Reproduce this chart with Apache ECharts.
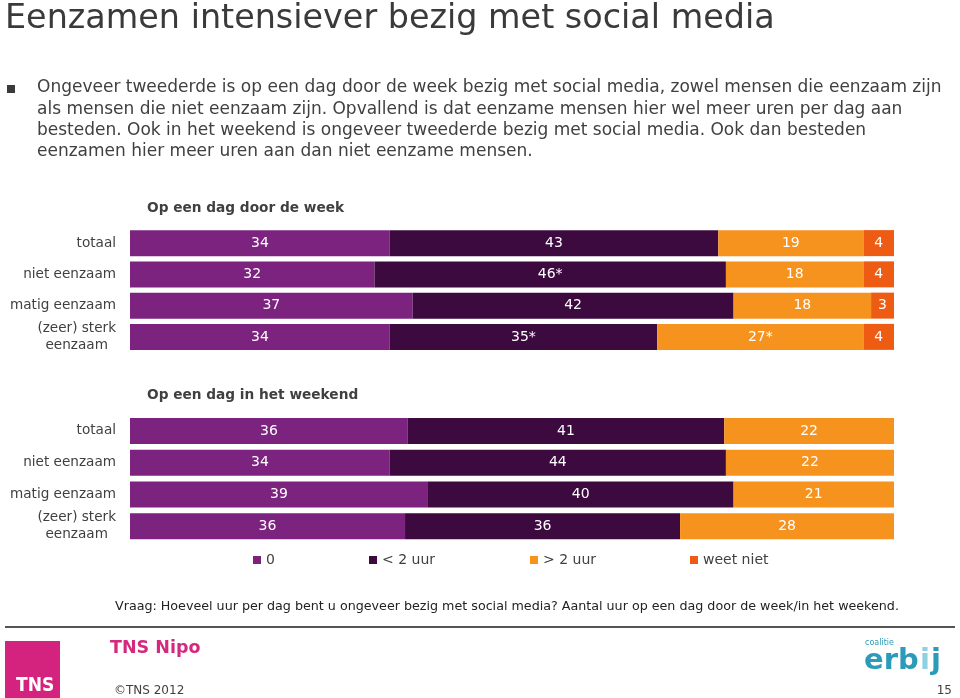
<!DOCTYPE html>
<html>
<head>
<meta charset="utf-8">
<script src="https://cdn.jsdelivr.net/npm/echarts@6/dist/echarts.min.js"></script>
<style>
html,body{margin:0;padding:0;background:#fff;}
#c{width:960px;height:698px;}
</style>
</head>
<body>
<div id="c"></div>
<script>
// ---- data ----
const categories = ['totaal', 'niet eenzaam', 'matig eenzaam', '(zeer) sterk\neenzaam'];
const seriesNames = ['0', '< 2 uur', '> 2 uur', 'weet niet'];
// Op een dag door de week
const week0 = [34, 32, 37, 34];
const week1 = [43, 46, 42, 35];
const week2 = [19, 18, 18, 27];
const week3 = [4, 4, 3, 4];
const weekMark1 = ['', '*', '', '*'];
const weekMark2 = ['', '', '', '*'];
// Op een dag in het weekend
const wknd0 = [36, 34, 39, 36];
const wknd1 = [41, 44, 40, 36];
const wknd2 = [22, 22, 21, 28];
const wknd3 = [null, null, null, null];

const colors = ['#7b237f', '#3d0a40', '#f6921e', '#ee5b13'];
const FONT = '"DejaVu Sans", Verdana, sans-serif';

function buildSeries(sets, marks, gridIdx) {
  const sums = categories.map((_, i) => sets.reduce((s, a) => s + (a[i] || 0), 0));
  return sets.map((arr, k) => ({
    name: seriesNames[k],
    type: 'bar',
    stack: 'g' + gridIdx,
    xAxisIndex: gridIdx,
    yAxisIndex: gridIdx,
    barWidth: 26,
    itemStyle: { color: colors[k] },
    label: {
      show: true,
      position: 'inside',
      color: '#fff',
      fontFamily: FONT,
      fontSize: 14,
      formatter: p => (arr[p.dataIndex] == null ? '' : arr[p.dataIndex] + (marks[k] ? marks[k][p.dataIndex] : ''))
    },
    emphasis: { disabled: true },
    data: arr.map((v, i) => (v == null ? null : v / sums[i] * 100))
  }));
}

const chart = echarts.init(document.getElementById('c'));
const yAxisBase = {
  type: 'category',
  data: categories,
  inverse: true,
  axisLine: { show: false },
  axisTick: { show: false },
  axisLabel: {
    color: '#404040', fontFamily: FONT, fontSize: 13.6, margin: 14, lineHeight: 17,
    formatter: v => v.split('\n').map(s => '{c|' + s + '}').join('\n'),
    rich: { c: { align: 'center', color: '#404040', fontFamily: FONT, fontSize: 13.6, lineHeight: 17 } }
  }
};
const xAxisBase = { type: 'value', min: 0, max: 100, show: false };

const legendItem = (name, left) => ({
  data: [name], left: left, top: 553, itemWidth: 8, itemHeight: 8, itemGap: 0, padding: 0,
  icon: 'rect', selectedMode: false,
  textStyle: { color: '#404040', fontFamily: FONT, fontSize: 14 }
});

const bulletLines = [
  'Ongeveer tweederde is op een dag door de week bezig met social media, zowel mensen die eenzaam zijn',
  'als mensen die niet eenzaam zijn. Opvallend is dat eenzame mensen hier wel meer uren per dag aan',
  'besteden. Ook in het weekend is ongeveer tweederde bezig met social media. Ook dan besteden',
  'eenzamen hier meer uren aan dan niet eenzame mensen.'
];

chart.setOption({
  animation: false,
  grid: [
    { left: 130, width: 764, top: 227.5, height: 125 },
    { left: 130, width: 764, top: 415, height: 127 }
  ],
  xAxis: [Object.assign({ gridIndex: 0 }, xAxisBase), Object.assign({ gridIndex: 1 }, xAxisBase)],
  yAxis: [Object.assign({ gridIndex: 0 }, yAxisBase), Object.assign({ gridIndex: 1 }, yAxisBase)],
  legend: [
    legendItem('0', 253),
    legendItem('< 2 uur', 369),
    legendItem('> 2 uur', 530),
    legendItem('weet niet', 690)
  ],
  title: [
    { text: 'Eenzamen intensiever bezig met social media', left: 0, top: -2,
      textStyle: { fontFamily: FONT, fontSize: 33.4, fontWeight: 'normal', color: '#3a3a3a' } },
    { text: 'Op een dag door de week', left: 142, top: 196,
      textStyle: { fontFamily: FONT, fontSize: 13.7, fontWeight: 'bold', color: '#404040' } },
    { text: 'Op een dag in het weekend', left: 142, top: 383,
      textStyle: { fontFamily: FONT, fontSize: 13.7, fontWeight: 'bold', color: '#404040' } }
  ],
  series: [
    ...buildSeries([week0, week1, week2, week3], [null, weekMark1, weekMark2, null], 0),
    ...buildSeries([wknd0, wknd1, wknd2, wknd3], [null, null, null, null], 1)
  ],
  graphic: [
    { type: 'rect', shape: { x: 7, y: 85, width: 8, height: 8 }, style: { fill: '#3a3a3a' } },
    ...bulletLines.map((t, i) => ({
      type: 'text', x: 37, y: 88 + i * 21.3,
      style: { text: t, font: '17px ' + FONT, fill: '#404040', textVerticalAlign: 'middle' }
    })),
    { type: 'text', x: 115, y: 607,
      style: { text: 'Vraag: Hoeveel uur per dag bent u ongeveer bezig met social media? Aantal uur op een dag door de week/in het weekend.',
               font: '12.7px ' + FONT, fill: '#222', textVerticalAlign: 'middle' } },
    { type: 'line', shape: { x1: 5, y1: 627, x2: 955, y2: 627 }, style: { stroke: '#555', lineWidth: 2 } },
    { type: 'rect', shape: { x: 5, y: 641, width: 55, height: 57 }, style: { fill: '#d4237e' } },
    { type: 'text', x: 16, y: 686, style: { text: 'TNS', font: 'bold 19px "Liberation Sans Narrow", "DejaVu Sans Condensed", sans-serif', fill: '#fff', textVerticalAlign: 'middle' } },
    { type: 'text', x: 110, y: 648, style: { text: 'TNS Nipo', font: 'bold 17.5px ' + FONT, fill: '#d4297e', textVerticalAlign: 'middle' } },
    { type: 'text', x: 114, y: 691, style: { text: '\u00A9TNS 2012', font: '12px ' + FONT, fill: '#404040', textVerticalAlign: 'middle' } },
    { type: 'text', x: 865, y: 643, style: { text: 'coalitie', font: '8px ' + FONT, fill: '#2c9bb9', textVerticalAlign: 'middle' } },
    { type: 'text', x: 864, y: 661, style: { text: 'erb', font: 'bold 29px ' + FONT, fill: '#2c9bb9', textVerticalAlign: 'middle' } },
    { type: 'text', x: 920, y: 661, style: { text: 'i', font: 'bold 29px ' + FONT, fill: '#8fd0e2', textVerticalAlign: 'middle' } },
    { type: 'text', x: 931, y: 661, style: { text: 'j', font: 'bold 29px ' + FONT, fill: '#2c9bb9', textVerticalAlign: 'middle' } },
    { type: 'text', x: 952, y: 691, style: { text: '15', font: '12px ' + FONT, fill: '#404040', textAlign: 'right', textVerticalAlign: 'middle' } }
  ]
});
</script>
</body>
</html>
